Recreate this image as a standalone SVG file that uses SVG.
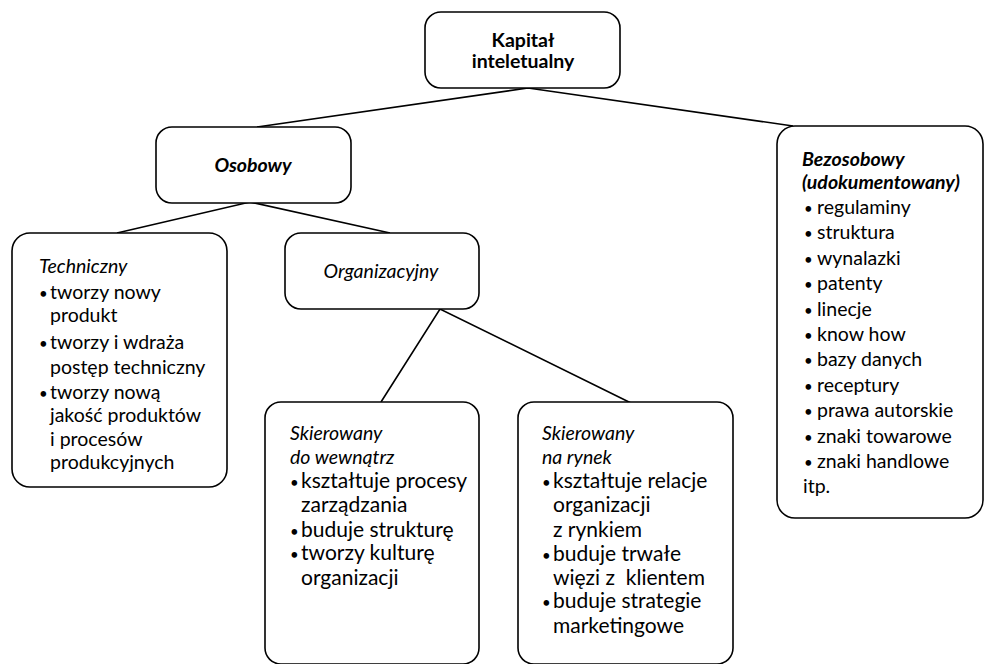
<svg xmlns="http://www.w3.org/2000/svg" width="985" height="664" viewBox="0 0 985 664">
<style>
.box{fill:#fff;stroke:#000;stroke-width:1.6}
.ln{stroke:#000;stroke-width:1.6;fill:none}
text{font-family:Lato,"Liberation Sans",sans-serif;font-size:19.5px;fill:#000}
.b{font-weight:bold}
.i{font-style:italic}
.c{text-anchor:middle}
.bl{font-size:15px}
.big{font-size:21px}
</style>
<rect width="985" height="664" fill="#fff"/>
<g id="connectors">
<polyline class="ln" points="257,127 528,88 793,126"/>
<polyline class="ln" points="117,233 250,202 390,233"/>
<polyline class="ln" points="381,402 440,309 631,403"/>
</g>
<g id="kapital">
<rect class="box" x="425" y="12" width="195" height="76" rx="16"/>
<text class="b c" x="523" y="47">Kapitał</text>
<text class="b c" x="523" y="68">inteletualny</text>
</g>
<g id="osobowy">
<rect class="box" x="156" y="127" width="195" height="76" rx="16"/>
<text class="b i c" x="253" y="172">Osobowy</text>
</g>
<g id="techniczny">
<rect class="box" x="12" y="233" width="215" height="254" rx="18"/>
<text class="i" x="39" y="273">Techniczny</text>
<text y="299"><tspan class="bl" x="39">•</tspan><tspan x="50">tworzy nowy</tspan></text>
<text x="50" y="322">produkt</text>
<text y="349"><tspan class="bl" x="39">•</tspan><tspan x="50">tworzy i wdraża</tspan></text>
<text x="50" y="374">postęp techniczny</text>
<text y="399"><tspan class="bl" x="39">•</tspan><tspan x="50">tworzy nową</tspan></text>
<text x="50" y="422">jakość produktów</text>
<text x="50" y="446">i procesów</text>
<text x="50" y="469">produkcyjnych</text>
</g>
<g id="organizacyjny">
<rect class="box" x="285" y="233" width="194" height="76" rx="16"/>
<text class="i c" x="381" y="278">Organizacyjny</text>
</g>
<g id="wewnatrz">
<rect class="box" x="265" y="402" width="214" height="262" rx="16"/>
<text class="i" x="290" y="440">Skierowany</text>
<text class="i" x="290" y="464">do wewnątrz</text>
<text class="big" y="488"><tspan class="bl" x="290">•</tspan><tspan x="301">kształtuje procesy</tspan></text>
<text class="big" x="301" y="512">zarządzania</text>
<text class="big" y="537"><tspan class="bl" x="290">•</tspan><tspan x="301">buduje strukturę</tspan></text>
<text class="big" y="560"><tspan class="bl" x="290">•</tspan><tspan x="301">tworzy kulturę</tspan></text>
<text class="big" x="301" y="585">organizacji</text>
</g>
<g id="rynek">
<rect class="box" x="518" y="402" width="215" height="262" rx="16"/>
<text class="i" x="542" y="440">Skierowany</text>
<text class="i" x="542" y="464">na rynek</text>
<text class="big" y="488"><tspan class="bl" x="542">•</tspan><tspan x="553">kształtuje relacje</tspan></text>
<text class="big" x="553" y="512">organizacji</text>
<text class="big" x="553" y="537">z rynkiem</text>
<text class="big" y="561"><tspan class="bl" x="542">•</tspan><tspan x="553">buduje trwałe</tspan></text>
<text class="big" x="553" y="585" xml:space="preserve">więzi z  klientem</text>
<text class="big" y="608"><tspan class="bl" x="542">•</tspan><tspan x="553">buduje strategie</tspan></text>
<text class="big" x="553" y="633">marketingowe</text>
</g>
<g id="bezosobowy">
<rect class="box" x="777" y="126" width="206" height="392" rx="18"/>
<text class="b i" x="802" y="166">Bezosobowy</text>
<text class="b i" x="802" y="189">(udokumentowany)</text>
<text y="214"><tspan class="bl" x="804">•</tspan><tspan x="817">regulaminy</tspan></text>
<text y="239.4"><tspan class="bl" x="804">•</tspan><tspan x="817">struktura</tspan></text>
<text y="264.8"><tspan class="bl" x="804">•</tspan><tspan x="817">wynalazki</tspan></text>
<text y="290.2"><tspan class="bl" x="804">•</tspan><tspan x="817">patenty</tspan></text>
<text y="315.6"><tspan class="bl" x="804">•</tspan><tspan x="817">linecje</tspan></text>
<text y="341"><tspan class="bl" x="804">•</tspan><tspan x="817">know how</tspan></text>
<text y="366.4"><tspan class="bl" x="804">•</tspan><tspan x="817">bazy danych</tspan></text>
<text y="391.8"><tspan class="bl" x="804">•</tspan><tspan x="817">receptury</tspan></text>
<text y="417.2"><tspan class="bl" x="804">•</tspan><tspan x="817">prawa autorskie</tspan></text>
<text y="442.6"><tspan class="bl" x="804">•</tspan><tspan x="817">znaki towarowe</tspan></text>
<text y="468"><tspan class="bl" x="804">•</tspan><tspan x="817">znaki handlowe</tspan></text>
<text x="803" y="493.4">itp.</text>
</g>
</svg>
